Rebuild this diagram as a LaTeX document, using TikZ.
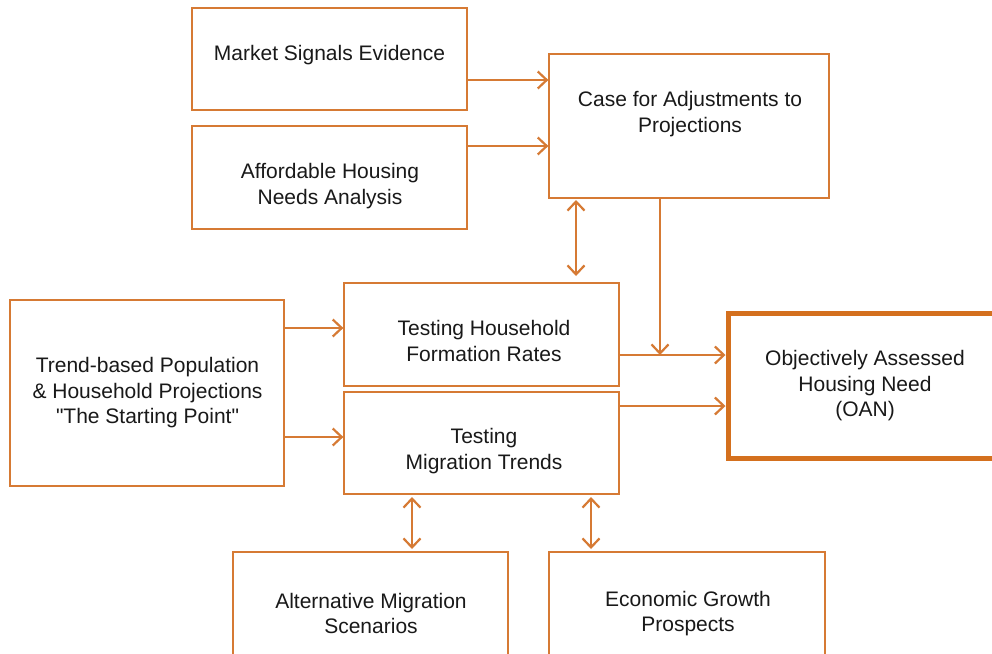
\documentclass[tikz,border=0pt]{standalone}
\usepackage{fontspec}
\setmainfont{Liberation Sans}[Ligatures=TeXOff]
\usetikzlibrary{arrows.meta}
\definecolor{org}{RGB}{214,122,52}
\definecolor{orgdark}{RGB}{212,112,30}
\definecolor{txtc}{RGB}{25,25,25}
\begin{document}
\begin{tikzpicture}[x=1pt,y=-1pt,
  box/.style={draw=org, line width=1.3pt, fill=white, inner sep=0pt},
  bigbox/.style={draw=orgdark, line width=5pt, fill=white, inner sep=0pt},
  txt/.style={align=center, inner sep=0pt, text=txtc, font=\fontsize{21}{25.5}\selectfont},
  conn/.style={draw=org, line width=2.2pt, -{Straight Barb[length=9pt,width=17pt,line width=2.2pt]}},
  conn2/.style={draw=org, line width=2.2pt, {Straight Barb[length=9pt,width=17pt,line width=2.2pt]}-{Straight Barb[length=9pt,width=17pt,line width=2.2pt]}}]
\clip (0,0) rectangle (992,653);
\fill[white] (0,0) rectangle (992,653);

% boxes
\node[box, minimum width=275pt, minimum height=102pt] (ms) at (329.5,59) {};
\node[box, minimum width=275pt, minimum height=103pt] (ah) at (329.5,177.5) {};
\node[box, minimum width=280pt, minimum height=144pt] (ca) at (689,126) {};
\node[box, minimum width=274pt, minimum height=186pt] (tr) at (147,393) {};
\node[box, minimum width=275pt, minimum height=103pt] (hh) at (481.5,334.5) {};
\node[box, minimum width=275pt, minimum height=102pt] (mg) at (481.5,443) {};
\node[bigbox, minimum width=272pt, minimum height=145pt] (oan) at (864,385.5) {};
\node[box, minimum width=275pt, minimum height=130pt] (alt) at (370.5,617) {};
\node[box, minimum width=276pt, minimum height=130pt] (eco) at (687,617) {};

% texts
\node[txt] (ms-t) at (329.5,55) {Market Signals Evidence};
\node[txt] (ah-t) at (330,186) {Affordable Housing\\Needs Analysis};
\node[txt] (ca-t) at (690,114) {Case for Adjustments to\\Projections};
\node[txt] (tr-t) at (147.5,393) {Trend-based Population\\\& Household Projections\\"The Starting Point"};
\node[txt] (hh-t) at (484,341) {Testing Household\\Formation Rates};
\node[txt] (mg-t) at (484,451) {Testing\\Migration Trends};
\node[txt] (oan-t) at (865,386) {Objectively Assessed\\Housing Need\\(OAN)};
\node[txt] (alt-t) at (371,613.5) {Alternative Migration\\Scenarios};
\node[txt] (eco-t) at (688,613.5) {Economic Growth\\Prospects};

% connectors
\draw[conn] (ms.east |- 0,80) -- (ca.west |- 0,80);
\draw[conn] (ah.east |- 0,146) -- (ca.west |- 0,146);
\coordinate (cah) at (576,200);
\coordinate (hhc) at (576,276);
\draw[conn2] (cah) -- (hhc);
\draw[conn] (tr.east |- 0,328) -- (hh.west |- 0,328);
\draw[conn] (tr.east |- 0,437) -- (mg.west |- 0,437);
\draw[conn] (hh.east |- 0,355) -- (oan.west |- 0,355);
\draw[conn] (mg.east |- 0,406) -- (oan.west |- 0,406);
\coordinate (dropend) at (660,355);
\draw[conn] (ca.south -| dropend) -- (dropend);
\coordinate (m1) at (412,497);
\coordinate (m2) at (412,549);
\coordinate (m3) at (591,497);
\coordinate (m4) at (591,549);
\draw[conn2] (m1) -- (m2);
\draw[conn2] (m3) -- (m4);
\end{tikzpicture}
\end{document}
